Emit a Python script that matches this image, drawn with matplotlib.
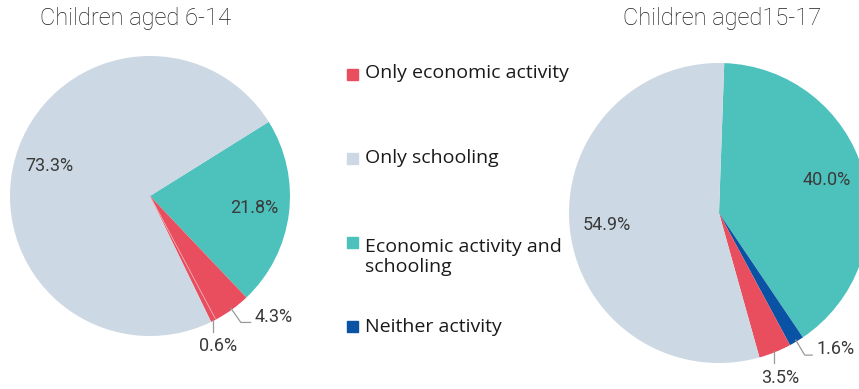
import numpy as np
import matplotlib
matplotlib.use("Agg")
import matplotlib.pyplot as plt

# Shares of children by activity status (percent)
categories = ["Only economic activity", "Only schooling",
              "Economic activity and\nschooling", "Neither activity"]
colors = {"Only economic activity": "#e84e5e",
          "Only schooling": "#ccd8e3",
          "Economic activity and\nschooling": "#4dc2bd",
          "Neither activity": "#0a52a3"}

# Children aged 6-14 (slice order, clockwise from the start angle)
young_labels = ["Economic activity and\nschooling", "Only economic activity",
                "Neither activity", "Only schooling"]
young_values = [21.8, 4.3, 0.6, 73.3]
young_colors = ["#4dc2bd", "#e84e5e", "#e84e5e", "#ccd8e3"]

# Children aged 15-17
old_labels = ["Economic activity and\nschooling", "Neither activity",
              "Only economic activity", "Only schooling"]
old_values = [40.0, 1.6, 3.5, 54.9]
old_colors = ["#4dc2bd", "#0a52a3", "#e84e5e", "#ccd8e3"]

W, H = 859, 389
DPI = 100
fig = plt.figure(figsize=(W / DPI, H / DPI), dpi=DPI)
fig.patch.set_facecolor("white")

LABEL_FONT = dict(family="Roboto", fontweight="normal", fontsize=13, color="#3a3a3a")
LIM = 1.6


def pie_axes(cx, cy, r, lim=LIM):
    """Axes whose data unit equals r pixels, centred on pixel (cx, cy) from top."""
    half = lim * r
    ax = fig.add_axes([(cx - half) / W, (H - cy - half) / H, 2 * half / W, 2 * half / H])
    ax.axis("off")
    return ax


def draw_pie(ax, values, cols, start, inside, outside):
    wedges, _ = ax.pie(values, colors=cols, startangle=start, counterclock=False,
                       radius=1.0, wedgeprops=dict(linewidth=0))
    ax.set_xlim(-LIM, LIM)
    ax.set_ylim(-LIM, LIM)
    ax.set_aspect("equal")
    for i, w in enumerate(wedges):
        mid = np.deg2rad((w.theta1 + w.theta2) / 2)
        txt = f"{values[i]:.1f}%"
        if i in inside:
            ax.text(0.75 * np.cos(mid), 0.75 * np.sin(mid) + 0.01, txt,
                    ha="center", va="center", **LABEL_FONT)
        elif i in outside:
            kind, dx, dy, hl = outside[i]
            x0, y0 = 0.99 * np.cos(mid), 0.99 * np.sin(mid)
            x1, y1 = x0 + dx, y0 + dy
            if kind == "elbow":
                ax.plot([x0, x1, x1 + hl], [y0, y1, y1], color="#999999",
                        lw=0.9, clip_on=False)
                ax.text(x1 + hl + 0.03, y1 + 0.04, txt, ha="left", va="center",
                        clip_on=False, **LABEL_FONT)
            else:
                ax.plot([x0, x0], [y0, y1], color="#999999", lw=0.9, clip_on=False)
                ax.text(x0 + 0.04, y1 - 0.1, txt, ha="center", va="center",
                        clip_on=False, **LABEL_FONT)
    return wedges


# Left pie: children aged 6-14
axL = pie_axes(150, 196, 140)
wL = draw_pie(axL, young_values, young_colors, 32, inside={0, 3},
              outside={1: ("elbow", 0.07, -0.10, 0.07),
                       2: ("down", 0, -0.09, 0)})
# thin seam between the two adjacent red slices
seam = np.deg2rad(wL[2].theta2)
axL.plot([0, 0.99 * np.cos(seam)], [0, 0.99 * np.sin(seam)], color="#f2a6ae", lw=0.6)

# Right pie: children aged 15-17
axR = pie_axes(719, 213, 150)
draw_pie(axR, old_values, old_colors, 88, inside={0, 3},
         outside={1: ("elbow", 0.06, -0.10, 0.05),
                  2: ("down", 0, -0.08, 0)})

# Titles
TITLE_FONT = dict(family="Roboto", fontweight="light", fontsize=17, color="#1e1e1e")
fig.text(135 / W, 1 - 18 / H, "Children aged 6-14", ha="center", va="center", **TITLE_FONT)
fig.text(722 / W, 1 - 18 / H, "Children aged15-17", ha="center", va="center", **TITLE_FONT)

# Legend
legend_rows = [("Only economic activity", 74, 73),
               ("Only schooling", 158, 158),
               ("Economic activity and\nschooling", 242, 257),
               ("Neither activity", 326, 327)]
for name, sq_y, txt_y in legend_rows:
    fig.patches.append(plt.Rectangle((347 / W, 1 - (sq_y + 5.5) / H), 11 / W, 11 / H,
                                     transform=fig.transFigure, color=colors[name]))
    fig.text(365 / W, 1 - txt_y / H, name, ha="left", va="center",
             family="Open Sans", fontsize=14, color="#1a1a1a", linespacing=1.2)

fig.savefig("out.png", dpi=DPI)
